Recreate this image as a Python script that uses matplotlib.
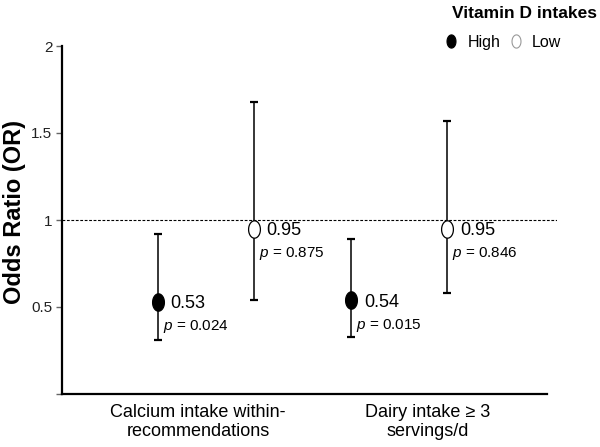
import numpy as np
import matplotlib
matplotlib.use("Agg")
import matplotlib.pyplot as plt
from matplotlib.path import Path
from matplotlib.lines import Line2D

plt.rcParams['font.family'] = ['Liberation Sans', 'DejaVu Sans']
plt.rcParams['mathtext.fontset'] = 'custom'
plt.rcParams['mathtext.rm'] = 'Liberation Sans'
plt.rcParams['mathtext.it'] = 'Liberation Sans:italic'

# ---- data ----
categories = ["Calcium intake within-\nrecommendations", "Dairy intake \u2265 3\nservings/d"]
groups = ["High", "Low"]
or_high = [0.53, 0.54]
lo_high = [0.31, 0.33]
hi_high = [0.92, 0.89]
p_high = ["0.024", "0.015"]
or_low = [0.95, 0.95]
lo_low = [0.54, 0.58]
hi_low = [1.68, 1.57]
p_low = ["0.875", "0.846"]
yticks = [0, 0.5, 1, 1.5, 2]
yticklabels = ["", "0.5", "1", "1.5", "2"]

# ---- layout ----
W, H = 600, 447
fig = plt.figure(figsize=(W / 100, H / 100), dpi=100)
ax = fig.add_axes([62 / W, 53 / H, 495 / W, 348 / H])

t = np.linspace(0, 2 * np.pi, 60)
ellipse = Path(np.column_stack([0.68 * np.cos(t), np.sin(t)]), closed=True)

pos = np.arange(1, len(categories) + 1)
off = 0.248
x_high = pos - off
x_low = pos + off

for xs, ors, los, his, face in [(x_high, or_high, lo_high, hi_high, 'black'),
                                 (x_low, or_low, lo_low, hi_low, 'white')]:
    ors_a = np.array(ors)
    yerr = [ors_a - np.array(los), np.array(his) - ors_a]
    ax.errorbar(xs, ors, yerr=yerr, fmt='none', ecolor='black', elinewidth=1.1,
                capsize=3, capthick=1.6, zorder=2)
    ax.plot(xs, ors, linestyle='none', marker=ellipse, markersize=12.5,
            markerfacecolor=face, markeredgecolor='black', markeredgewidth=0.9, zorder=3)

for xs, ors, ps in [(x_high, or_high, p_high), (x_low, or_low, p_low)]:
    for x, o, p in zip(xs, ors, ps):
        ax.annotate(f"{o:.2f}", (x, o), xytext=(13, -2), textcoords='offset pixels',
                    ha='left', va='center', fontsize=13, color='black')
        ax.annotate(f"$p$ = {p}", (x, o), xytext=(5, -25), textcoords='offset pixels',
                    ha='left', va='center', fontsize=11, color='black')

ax.axhline(1, color='black', linestyle=(0, (2.5, 1.5)), linewidth=0.8, zorder=1)

ax.set_xlim(0.258, 2.817)
ax.set_ylim(0, 2)
ax.set_yticks(yticks)
ax.set_yticklabels(yticklabels)
ax.set_xticks([0.961, 2.15])
ax.set_xticklabels(categories, fontsize=13, linespacing=1.2)
ax.tick_params(axis='x', length=0, pad=7)
ax.tick_params(axis='y', length=4, width=1, color='#666666', labelsize=11,
               labelcolor='#222222', pad=3)

for s in ['top', 'right']:
    ax.spines[s].set_visible(False)
for s in ['left', 'bottom']:
    ax.spines[s].set_linewidth(1.6)
ax.spines['bottom'].set_bounds(0.258, 2.765)

ax.set_ylabel("Odds Ratio (OR)", fontsize=17, fontweight='bold')
ax.yaxis.set_label_coords(-36 / 495, (394 - 212.5) / 348)

fig.text(452 / W, 1 - 18 / H, "Vitamin D intakes", ha='left', va='baseline',
         fontsize=12.5, fontweight='bold')
handles = [Line2D([], [], linestyle='none', marker=ellipse, markersize=9.5,
                  markerfacecolor='black', markeredgecolor='black', markeredgewidth=0.8),
           Line2D([], [], linestyle='none', marker=ellipse, markersize=9.5,
                  markerfacecolor='white', markeredgecolor='#999999', markeredgewidth=0.8)]
leg = fig.legend(handles, groups, ncol=2, frameon=False,
                 loc='upper left', bbox_to_anchor=(445 / W, 1 - 35 / H), fontsize=11.5,
                 handlelength=0.8, handletextpad=0.6,
                 columnspacing=0.6, borderpad=0, borderaxespad=0)

fig.savefig("out.png", dpi=100)
